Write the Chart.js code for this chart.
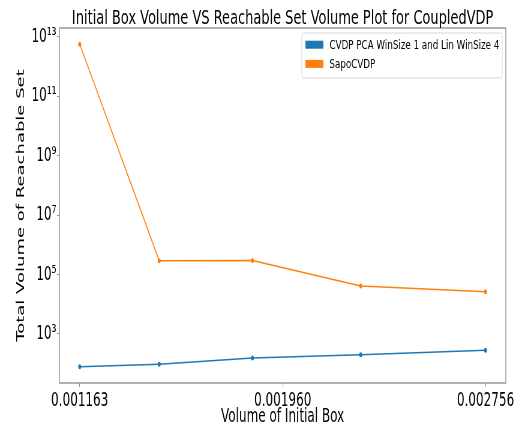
<!DOCTYPE html>
<html lang="en">
<head>
<meta charset="UTF-8">
<title>Initial Box Volume VS Reachable Set Volume Plot</title>
<script src="https://cdn.jsdelivr.net/npm/chart.js"></script>
<style>
    html, body {
        margin: 0;
        padding: 0;
        overflow: hidden;
        background: #fff;
    }
    /* the original figure is squeezed sideways, so draw it wide and squeeze it */
    #wrap {
        width: 868px;
        height: 429px;
        transform: scaleX(0.6);
        transform-origin: 0 0;
    }
</style>
</head>
<body>
<div id="wrap"><canvas id="volChart"></canvas></div>
<script>
const initialBoxVolumes = [0.001163, 0.001475, 0.001841, 0.002266, 0.002756];
const cvdpPcaVolumes = [78, 95, 155, 200, 280];
const sapoVolumes = [5.6e12, 2.9e5, 2.95e5, 4.1e4, 2.6e4];
const xTickValues = [0.001163, 0.001960, 0.002756];
const yTickExponents = [3, 5, 7, 9, 11, 13];
const seriesLabels = ['CVDP PCA WinSize 1 and Lin WinSize 4', 'SapoCVDP'];
const seriesColors = ['#1f77b4', '#ff7f0e'];
const chartTitle = 'Initial Box Volume VS Reachable Set Volume Plot for CoupledVDP';

const FONT = 'DejaVu Sans';
const sup = {'0':'⁰','1':'¹','2':'²','3':'³','4':'⁴','5':'⁵','6':'⁶','7':'⁷','8':'⁸','9':'⁹','-':'⁻'};

// 5% margins like matplotlib
const xLo = Math.min(...initialBoxVolumes), xHi = Math.max(...initialBoxVolumes);
const xPad = (xHi - xLo) * 0.05;
const allY = cvdpPcaVolumes.concat(sapoVolumes);
const lLo = Math.log10(Math.min(...allY)), lHi = Math.log10(Math.max(...allY));
const lPad = (lHi - lLo) * 0.05;

function toPoints(ys) {
    return initialBoxVolumes.map((x, i) => ({x: x, y: ys[i]}));
}

// text stretched a little sideways (title and legend are wider in the original)
function wideText(ctx, text, x, y, sx) {
    ctx.save();
    ctx.translate(x, y);
    ctx.scale(sx, 1);
    ctx.fillText(text, 0, 0);
    ctx.restore();
}

// frame around the plot area + title centred over it
const framePlugin = {
    id: 'frame',
    afterDatasetsDraw(chart) {
        const a = chart.chartArea, ctx = chart.ctx;
        ctx.save();
        ctx.strokeStyle = '#8f8f8f';
        ctx.lineWidth = 1.4;
        ctx.strokeRect(a.left, a.top, a.right - a.left, a.bottom - a.top);
        ctx.fillStyle = '#000';
        ctx.font = '20px "' + FONT + '"';
        ctx.textAlign = 'center';
        ctx.textBaseline = 'alphabetic';
        wideText(ctx, chartTitle, (a.left + a.right) / 2, 24, 1.08);
        ctx.restore();
    }
};

// legend in the upper right corner, inside the axes
const boxLegend = {
    id: 'boxLegend',
    afterDraw(chart) {
        const ctx = chart.ctx;
        const x0 = 503, y0 = 33, w = 334, h = 45;
        ctx.save();
        ctx.fillStyle = 'rgba(255,255,255,0.8)';
        ctx.strokeStyle = '#d6d6d6';
        ctx.lineWidth = 1;
        ctx.beginPath();
        ctx.roundRect(x0, y0, w, h, 3);
        ctx.fill();
        ctx.stroke();
        ctx.font = '13px "' + FONT + '"';
        ctx.textBaseline = 'middle';
        chart.data.datasets.forEach((ds, i) => {
            const cy = 44.7 + i * 19.2;
            ctx.fillStyle = ds.borderColor;
            ctx.fillRect(x0 + 6, cy - 4, 30, 8);
            ctx.fillStyle = '#000';
            wideText(ctx, ds.label, x0 + 46, cy + 0.5, 1.12);
        });
        ctx.restore();
    }
};

const ctx = document.getElementById('volChart').getContext('2d');
new Chart(ctx, {
    type: 'line',
    data: {
        datasets: [
            {
                label: seriesLabels[0],
                data: toPoints(cvdpPcaVolumes),
                borderColor: seriesColors[0],
                backgroundColor: seriesColors[0],
                borderWidth: 1.5,
                pointRadius: 2.5,
                pointBorderWidth: 0,
                tension: 0
            },
            {
                label: seriesLabels[1],
                data: toPoints(sapoVolumes),
                borderColor: seriesColors[1],
                backgroundColor: seriesColors[1],
                borderWidth: 1.5,
                pointRadius: 2.5,
                pointBorderWidth: 0,
                tension: 0
            }
        ]
    },
    options: {
        responsive: true,
        maintainAspectRatio: false,
        animation: false,
        devicePixelRatio: 1,
        layout: { padding: { left: 0, right: 25, top: 28, bottom: 0 } },
        plugins: {
            legend: { display: false },
            tooltip: { enabled: false },
            title: { display: false }
        },
        scales: {
            x: {
                type: 'linear',
                min: xLo - xPad,
                max: xHi + xPad,
                afterBuildTicks: s => { s.ticks = xTickValues.map(v => ({value: v})); },
                afterFit: s => { s.height = 46; },
                grid: { drawOnChartArea: false, tickLength: 4, color: '#8f8f8f' },
                border: { display: false },
                ticks: {
                    autoSkip: false,
                    maxRotation: 0,
                    padding: 2,
                    color: '#000',
                    font: { family: FONT, size: 20 },
                    callback: v => v.toFixed(6)
                },
                title: {
                    display: true,
                    text: 'Volume of Initial Box',
                    color: '#000',
                    font: { family: FONT, size: 20 },
                    padding: { top: 0, bottom: 0 }
                }
            },
            y: {
                type: 'logarithmic',
                min: Math.pow(10, lLo - lPad),
                max: Math.pow(10, lHi + lPad),
                afterBuildTicks: s => { s.ticks = yTickExponents.map(e => ({value: Math.pow(10, e)})); },
                afterFit: s => { s.width = 99; },
                grid: { drawOnChartArea: false, tickLength: 4, color: '#8f8f8f' },
                border: { display: false },
                ticks: {
                    autoSkip: false,
                    padding: 1,
                    color: '#000',
                    font: { family: FONT, size: 20 },
                    callback: v => '10' + String(Math.round(Math.log10(v))).split('').map(c => sup[c]).join('')
                },
                title: {
                    display: true,
                    text: 'Total Volume of Reachable Set',
                    color: '#000',
                    font: { family: FONT, size: 18 },
                    padding: { top: 25, bottom: 0 }
                }
            }
        }
    },
    plugins: [framePlugin, boxLegend]
});
</script>
</body>
</html>
